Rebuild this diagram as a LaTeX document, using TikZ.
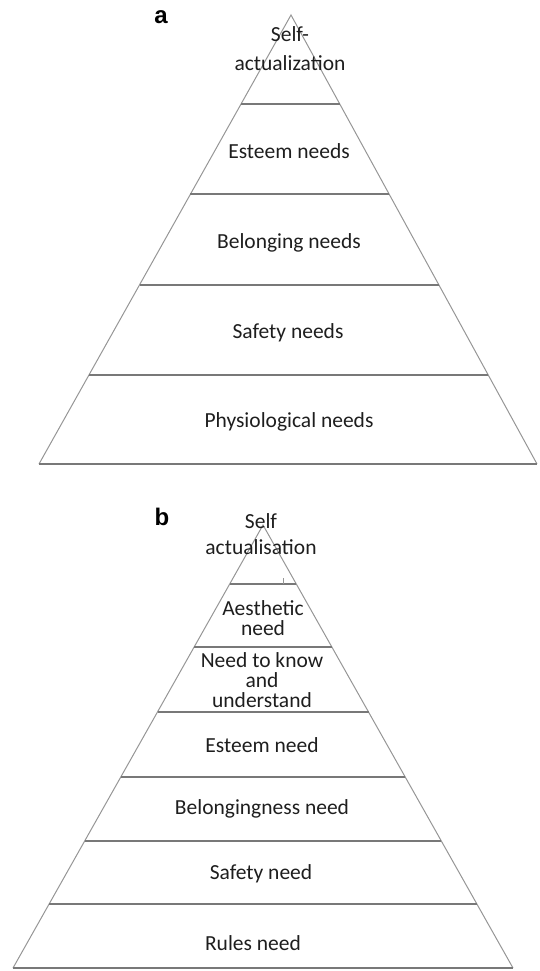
\documentclass[tikz,border=0pt]{standalone}
\usepackage{fontspec}
\setmainfont{Carlito}
\newfontfamily\panelfont{Liberation Sans}
\usetikzlibrary{calc}

\definecolor{tiergray}{RGB}{120,120,120}
\definecolor{sidegray}{RGB}{150,150,150}
\definecolor{textblack}{RGB}{30,30,30}

\tikzset{
  tier/.style={draw=tiergray, line width=1.5pt},
  side/.style={draw=sidegray, line width=1pt},
  lbl/.style={font=\fontsize{21.5}{20}\selectfont, text=textblack, align=center, inner sep=0pt},
  panel/.style={font=\panelfont\bfseries\fontsize{24}{24}\selectfont, inner sep=0pt}
}

\begin{document}
\begin{tikzpicture}[x=1pt, y=-1pt]
\useasboundingbox (0,0) rectangle (540,971);

% pyramid a
\coordinate (atop) at (291,15);
\coordinate (aleft) at (39,464);
\coordinate (aright) at (537,464);
\draw[side] (aleft) -- (atop) -- (aright);
\draw[tier] (aleft) -- (aright);
\foreach \t in {0.198,0.399,0.601,0.802}
  \draw[tier] ($(atop)!\t!(aleft)$) -- ($(atop)!\t!(aright)$);

\node[panel] (pa) at (161,17) {a};
\node[lbl] (a5) at (290,49) {Self-\\[9pt]actualization};
\node[lbl] (a4) at (289,151) {Esteem needs};
\node[lbl] (a3) at (289,243) {Belonging needs};
\node[lbl] (a2) at (288,333) {Safety needs};
\node[lbl] (a1) at (289,422) {Physiological needs};

% pyramid b
\coordinate (btop) at (263,525);
\coordinate (bleft) at (13,968);
\coordinate (bright) at (513,968);
\draw[side] (bleft) -- (btop) -- (bright);
\draw[tier] (bleft) -- (bright);
\foreach \t in {0.133,0.275,0.422,0.569,0.713,0.856}
  \draw[tier] ($(btop)!\t!(bleft)$) -- ($(btop)!\t!(bright)$);
\draw[side] (283,578) -- (283,584);

\node[panel] (pb) at (162,517) {b};
\node[lbl] (b7) at (261,534) {Self\\[6pt]actualisation};
\node[lbl] (b6) at (263,618) {Aesthetic\\need};
\node[lbl] (b5) at (262,680) {Need to know\\and\\understand};
\node[lbl] (b4) at (262,745) {Esteem need};
\node[lbl] (b3) at (262,809) {Belongingness need};
\node[lbl] (b2) at (261,874) {Safety need};
\node[lbl] (b1) at (253,943) {Rules need};
\end{tikzpicture}
\end{document}
